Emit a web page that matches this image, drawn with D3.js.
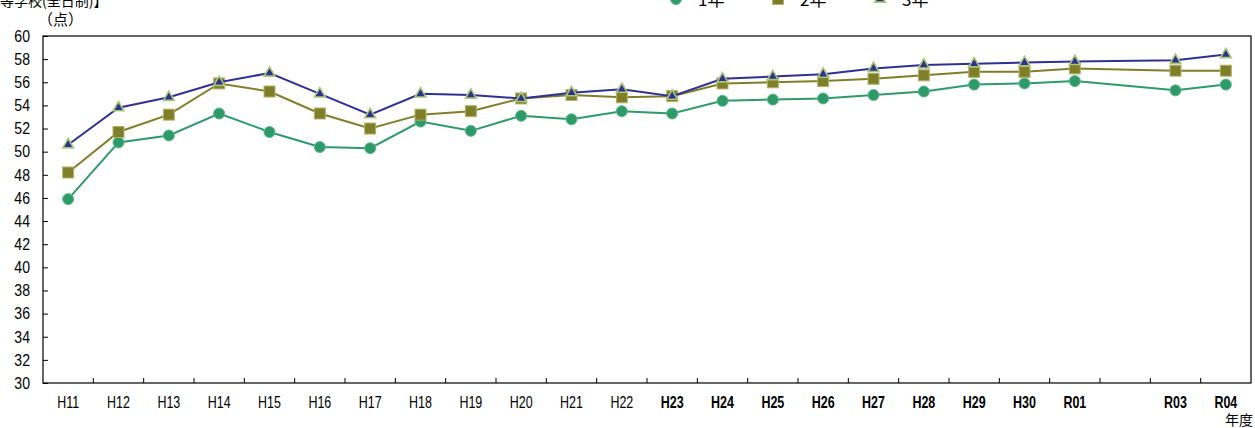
<!DOCTYPE html>
<html><head><meta charset="utf-8">
<script src="https://cdn.jsdelivr.net/npm/d3@7"></script>
<style>body{margin:0;background:#fff;}svg{display:block;}</style>
</head><body>
<svg id="c" width="1255" height="428"></svg>
<script>
const categories = ["H11","H12","H13","H14","H15","H16","H17","H18","H19","H20","H21","H22","H23","H24","H25","H26","H27","H28","H29","H30","R01","R02","R03","R04"];
const tickLabels = ["H11","H12","H13","H14","H15","H16","H17","H18","H19","H20","H21","H22","H23","H24","H25","H26","H27","H28","H29","H30","R01","","R03","R04"];
const boldFrom = "H23";
const grade1 = [45.9,50.8,51.4,53.3,51.7,50.4,50.3,52.6,51.8,53.1,52.8,53.5,53.3,54.4,54.5,54.6,54.9,55.2,55.8,55.9,56.1,null,55.3,55.8];
const grade2 = [48.2,51.7,53.2,55.9,55.2,53.3,52.0,53.2,53.5,54.6,54.9,54.7,54.8,55.9,56.0,56.1,56.3,56.6,56.9,56.9,57.2,null,57.0,57.0];
const grade3 = [50.6,53.8,54.7,56.0,56.8,55.0,53.2,55.0,54.9,54.6,55.1,55.4,54.8,56.3,56.5,56.7,57.2,57.5,57.6,57.7,57.8,null,57.9,58.4];
const yTicks = [30,32,34,36,38,40,42,44,46,48,50,52,54,56,58,60];
const seriesNames = ["1年","2年","3年"];

const svg = d3.select("#c");
const L = 43, R = 1251, T = 36, B = 383;
const x = d3.scaleBand().domain(categories).range([L, R]);
const y = d3.scaleLinear().domain([30, 60]).range([B, T]);
const numFont = "'Liberation Sans', Arial, sans-serif";
const jpFont = "'Noto Sans CJK JP', sans-serif";

// frame
svg.append("rect").attr("x", L).attr("y", T).attr("width", R - L).attr("height", B - T)
  .attr("fill", "none").attr("stroke", "#000").attr("stroke-width", 1.2);

// y axis
const yAxis = svg.append("g").attr("transform", `translate(${L},0)`)
  .call(d3.axisRight(y).tickValues(yTicks).tickSize(5).tickFormat(""));
yAxis.select(".domain").remove();
yAxis.selectAll("line").attr("stroke", "#000");
svg.append("g").selectAll("text").data(yTicks).join("text")
  .attr("transform", d => `translate(30,${y(d)}) scale(0.88,1)`).attr("dy", "0.36em")
  .attr("text-anchor", "end").attr("font-family", numFont).attr("font-size", 16)
  .text(d => d);

// x axis ticks at band boundaries
const bounds = categories.map(c => x(c)).slice(1);
svg.append("g").selectAll("line").data(bounds).join("line")
  .attr("x1", d => d).attr("x2", d => d).attr("y1", B).attr("y2", B - 5)
  .attr("stroke", "#000");
const boldIdx = categories.indexOf(boldFrom);
svg.append("g").selectAll("text").data(categories).join("text")
  .attr("transform", d => `translate(${x(d) + x.bandwidth() / 2},408) scale(0.78,1)`)
  .attr("text-anchor", "middle").attr("font-family", numFont).attr("font-size", 16)
  .attr("font-weight", (d, i) => i >= boldIdx ? "bold" : "normal")
  .text((d, i) => tickLabels[i]);

svg.append("text").attr("x", 1253).attr("y", 425).attr("text-anchor", "end")
  .attr("font-family", jpFont).attr("font-size", 14).text("年度");
svg.append("text").attr("x", 38).attr("y", 25)
  .attr("font-family", jpFont).attr("font-size", 15).text("（点）");
svg.append("text").attr("x", -28).attr("y", 6)
  .attr("font-family", jpFont).attr("font-size", 14).text("【高等学校(全日制)】");

const series = [
  {name: seriesNames[0], data: grade1, line: "#2e9a6a", fill: "#2e9a6a", stroke: "#5cb88a", shape: "circle"},
  {name: seriesNames[1], data: grade2, line: "#7f7f2a", fill: "#7f7f2a", stroke: "#b3b36a", shape: "square"},
  {name: seriesNames[2], data: grade3, line: "#2e3192", fill: "#2e3192", stroke: "#a8c878", shape: "triangle"}
];
const cx = c => x(c) + x.bandwidth() / 2;

function marker(g, s, px, py) {
  if (s.shape === "circle") {
    g.append("circle").attr("cx", px).attr("cy", py).attr("r", 5.5)
      .attr("fill", s.fill).attr("stroke", s.stroke).attr("stroke-width", 1);
  } else if (s.shape === "square") {
    g.append("rect").attr("x", px - 5.5).attr("y", py - 5.5).attr("width", 11).attr("height", 11)
      .attr("fill", s.fill).attr("stroke", s.stroke).attr("stroke-width", 1);
  } else {
    g.append("path").attr("transform", `translate(${px},${py})`)
      .attr("d", d3.symbol(d3.symbolTriangle, 50)())
      .attr("fill", s.fill).attr("stroke", s.stroke).attr("stroke-width", 1.6);
  }
}

series.forEach(s => {
  const solid = categories.map((c, i) => ({c, v: s.data[i]})).filter(d => d.v != null);
  const g = svg.append("g");
  g.append("path").datum(solid).attr("d", d3.line().x(d => cx(d.c)).y(d => y(d.v)))
    .attr("fill", "none").attr("stroke", s.line).attr("stroke-width", 2);
  solid.forEach(d => marker(g, s, cx(d.c), y(d.v)));
});

// legend
const legX = [658, 760, 862];
series.forEach((s, i) => {
  const g = svg.append("g");
  g.append("line").attr("x1", legX[i]).attr("x2", legX[i] + 36).attr("y1", -1).attr("y2", -1)
    .attr("stroke", s.line).attr("stroke-width", 2);
  marker(g, s, legX[i] + 18, -1);
  g.append("text").attr("x", legX[i] + 40).attr("y", 6)
    .attr("font-family", jpFont).attr("font-size", 17).text(s.name);
});
</script>
</body></html>
